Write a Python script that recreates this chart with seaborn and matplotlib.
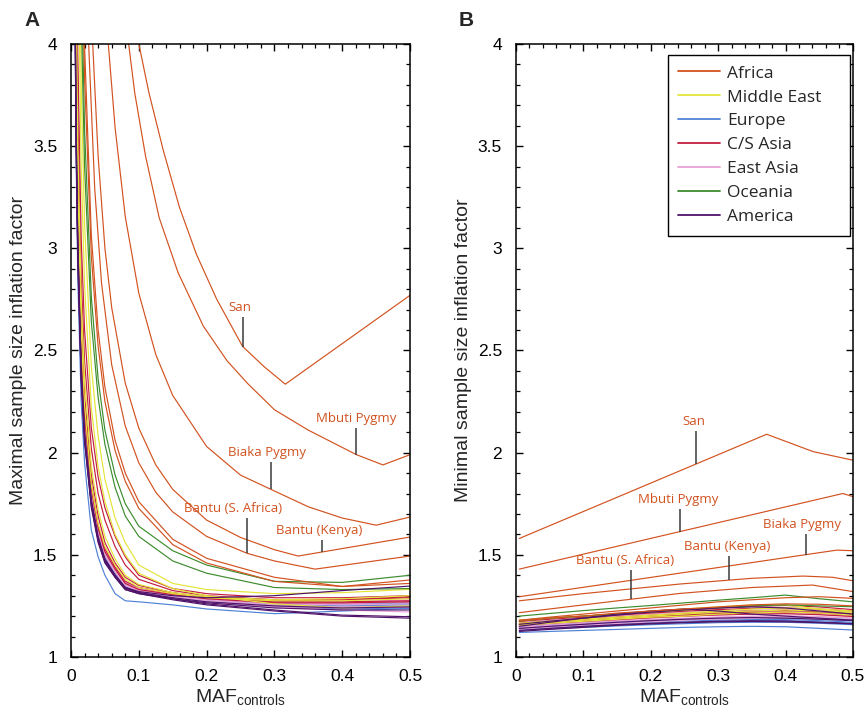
import numpy as np
import pandas as pd
import matplotlib
matplotlib.use("Agg")
import matplotlib.pyplot as plt
import seaborn as sns
from matplotlib.lines import Line2D
from matplotlib.ticker import MultipleLocator, FixedLocator, FixedFormatter

sns.set_theme(style="white")
plt.rcParams['font.family'] = ['Liberation Sans', 'DejaVu Sans']

REGIONS = ["Africa", "Middle East", "Europe", "C/S Asia", "East Asia", "Oceania", "America"]
REGION_COLORS = {
    "Africa": "#d2521f",
    "Middle East": "#e4e43a",
    "Europe": "#4f82d6",
    "C/S Asia": "#c41c3e",
    "East Asia": "#e6a3d6",
    "Oceania": "#3d8c2e",
    "America": "#50136a",
}

# ---------------- Panel A: maximal inflation factor ----------------
maf_a = [0.005, 0.0075, 0.01, 0.015, 0.02, 0.03, 0.04, 0.05, 0.065, 0.08,
         0.1, 0.15, 0.2, 0.3, 0.4, 0.5]

san_a_x = [0.09, 0.1, 0.115, 0.136, 0.16, 0.185, 0.215, 0.253, 0.285, 0.316, 0.5]
san_a_y = [4.2, 4.0, 3.76, 3.48, 3.2, 2.97, 2.75, 2.52, 2.42, 2.335, 2.77]
mbuti_a_x = [0.075, 0.085, 0.094, 0.11, 0.13, 0.158, 0.195, 0.23, 0.26, 0.3, 0.35, 0.421, 0.46, 0.5]
mbuti_a_y = [4.35, 4.0, 3.76, 3.45, 3.15, 2.88, 2.62, 2.45, 2.34, 2.21, 2.11, 1.99, 1.94, 1.99]
biaka_a_x = [0.045, 0.055, 0.065, 0.08, 0.1, 0.125, 0.15, 0.2, 0.25, 0.295, 0.35, 0.4, 0.45, 0.5]
biaka_a_y = [4.6, 4.0, 3.59, 3.155, 2.78, 2.48, 2.28, 2.03, 1.89, 1.82, 1.735, 1.68, 1.645, 1.685]
kenya_a_x = [0.025, 0.032, 0.04, 0.05, 0.06, 0.08, 0.1, 0.125, 0.15, 0.2, 0.25, 0.3, 0.335, 0.5]
kenya_a_y = [4.78, 4.0, 3.45, 3.0, 2.71, 2.34, 2.12, 1.94, 1.82, 1.67, 1.585, 1.525, 1.494, 1.587]
safrica_a_x = [0.02, 0.026, 0.035, 0.045, 0.06, 0.08, 0.1, 0.125, 0.15, 0.2, 0.26, 0.3, 0.36, 0.5]
safrica_a_y = [4.83, 4.0, 3.29, 2.83, 2.43, 2.13, 1.95, 1.806, 1.71, 1.59, 1.507, 1.47, 1.43, 1.494]
mandenka_a = [12.4, 8.6, 6.78, 4.92, 3.99, 3.06, 2.6, 2.32, 2.06, 1.9, 1.76, 1.576, 1.483, 1.39, 1.345, 1.377]
yoruba_a = [11.7, 8.2, 6.47, 4.71, 3.835, 2.96, 2.52, 2.25, 2.01, 1.86, 1.727, 1.55, 1.46, 1.37, 1.345, 1.36]

middle_east_a = [
    [8.5, 6.5, 5.2, 3.81, 3.12, 2.42, 2.08, 1.87, 1.68, 1.56, 1.45, 1.36, 1.33, 1.31, 1.315, 1.331],
    [7.4, 5.6, 4.55, 3.4, 2.82, 2.22, 1.93, 1.76, 1.6, 1.5, 1.41, 1.335, 1.3, 1.26, 1.24, 1.25],
    [5.6, 4.25, 3.52, 2.75, 2.36, 1.93, 1.72, 1.59, 1.48, 1.4, 1.355, 1.315, 1.295, 1.28, 1.285, 1.3],
    [5.2, 3.98, 3.3, 2.6, 2.23, 1.84, 1.65, 1.54, 1.45, 1.38, 1.34, 1.31, 1.29, 1.275, 1.275, 1.285],
]
europe_a = [
    [4.6, 3.45, 2.85, 2.25, 1.95, 1.62, 1.49, 1.4, 1.31, 1.275, 1.27, 1.255, 1.235, 1.212, 1.225, 1.238],
    [4.9, 3.75, 3.12, 2.48, 2.14, 1.79, 1.6, 1.49, 1.41, 1.345, 1.325, 1.3, 1.28, 1.255, 1.245, 1.25],
    [4.8, 3.7, 3.1, 2.45, 2.12, 1.78, 1.59, 1.48, 1.4, 1.34, 1.32, 1.295, 1.27, 1.245, 1.235, 1.24],
    [5.0, 3.82, 3.17, 2.52, 2.17, 1.81, 1.62, 1.51, 1.42, 1.355, 1.33, 1.305, 1.285, 1.265, 1.255, 1.26],
    [4.85, 3.72, 3.11, 2.46, 2.13, 1.78, 1.6, 1.49, 1.41, 1.345, 1.32, 1.3, 1.28, 1.26, 1.25, 1.255],
    [5.05, 3.85, 3.2, 2.54, 2.18, 1.82, 1.63, 1.52, 1.43, 1.36, 1.335, 1.31, 1.29, 1.27, 1.26, 1.265],
]
cs_asia_a = [
    [6.4, 4.8, 3.95, 3.05, 2.6, 2.12, 1.88, 1.73, 1.59, 1.49, 1.4, 1.335, 1.31, 1.29, 1.29, 1.3],
    [5.9, 4.45, 3.68, 2.86, 2.45, 2.02, 1.8, 1.67, 1.54, 1.45, 1.38, 1.325, 1.3, 1.28, 1.28, 1.29],
    [5.3, 4.05, 3.37, 2.65, 2.28, 1.89, 1.69, 1.56, 1.46, 1.39, 1.35, 1.315, 1.29, 1.27, 1.27, 1.275],
    [5.1, 3.9, 3.24, 2.57, 2.21, 1.84, 1.645, 1.53, 1.44, 1.37, 1.34, 1.31, 1.29, 1.275, 1.28, 1.295],
    [5.0, 3.84, 3.19, 2.53, 2.18, 1.82, 1.63, 1.515, 1.43, 1.36, 1.33, 1.305, 1.285, 1.265, 1.265, 1.27],
]
east_asia_a = [
    [4.9, 3.76, 3.14, 2.49, 2.15, 1.8, 1.61, 1.5, 1.42, 1.35, 1.33, 1.305, 1.285, 1.265, 1.26, 1.27],
    [5.0, 3.82, 3.18, 2.52, 2.17, 1.81, 1.62, 1.51, 1.425, 1.36, 1.335, 1.31, 1.29, 1.275, 1.27, 1.28],
    [4.95, 3.8, 3.16, 2.5, 2.16, 1.805, 1.615, 1.505, 1.42, 1.355, 1.325, 1.3, 1.275, 1.25, 1.24, 1.245],
    [5.1, 3.88, 3.22, 2.55, 2.19, 1.83, 1.64, 1.525, 1.435, 1.365, 1.34, 1.315, 1.295, 1.28, 1.28, 1.29],
    [4.85, 3.73, 3.12, 2.47, 2.14, 1.79, 1.605, 1.495, 1.415, 1.35, 1.32, 1.295, 1.27, 1.245, 1.23, 1.22],
    [5.0, 3.84, 3.19, 2.53, 2.18, 1.82, 1.625, 1.515, 1.43, 1.36, 1.33, 1.305, 1.285, 1.26, 1.255, 1.26],
    [4.9, 3.78, 3.15, 2.5, 2.155, 1.8, 1.61, 1.5, 1.42, 1.35, 1.325, 1.3, 1.28, 1.255, 1.245, 1.25],
    [5.05, 3.86, 3.21, 2.54, 2.18, 1.825, 1.63, 1.52, 1.43, 1.36, 1.335, 1.31, 1.29, 1.27, 1.265, 1.275],
]
oceania_a = [
    [11.0, 7.5, 6.0, 4.4, 3.58, 2.76, 2.36, 2.11, 1.89, 1.75, 1.64, 1.52, 1.45, 1.37, 1.365, 1.4],
    [10.0, 7.0, 5.6, 4.15, 3.4, 2.64, 2.27, 2.04, 1.83, 1.69, 1.59, 1.47, 1.41, 1.34, 1.33, 1.335],
]
america_a = [
    [4.5, 3.5, 2.94, 2.35, 2.05, 1.73, 1.56, 1.46, 1.39, 1.33, 1.31, 1.28, 1.255, 1.225, 1.2, 1.19],
    [4.6, 3.55, 2.98, 2.38, 2.07, 1.75, 1.575, 1.47, 1.395, 1.335, 1.315, 1.285, 1.26, 1.23, 1.205, 1.197],
    [4.7, 3.62, 3.04, 2.42, 2.1, 1.77, 1.59, 1.48, 1.4, 1.34, 1.32, 1.3, 1.29, 1.3, 1.325, 1.347],
    [4.55, 3.53, 2.97, 2.37, 2.06, 1.74, 1.57, 1.465, 1.39, 1.33, 1.31, 1.285, 1.265, 1.24, 1.23, 1.23],
    [4.65, 3.6, 3.02, 2.4, 2.08, 1.76, 1.58, 1.475, 1.4, 1.34, 1.315, 1.29, 1.27, 1.25, 1.24, 1.245],
]

# ---------------- Panel B: minimal inflation factor ----------------
maf_b = [0.005, 0.05, 0.1, 0.15, 0.2, 0.25, 0.3, 0.35, 0.4, 0.45, 0.5]

san_b_x = [0.005, 0.372, 0.441, 0.5]
san_b_y = [1.58, 2.09, 2.005, 1.963]
mbuti_b_x = [0.005, 0.485, 0.5]
mbuti_b_y = [1.43, 1.8, 1.785]
biaka_b_x = [0.005, 0.476, 0.5]
biaka_b_y = [1.295, 1.523, 1.52]
kenya_b_x = [0.005, 0.1, 0.243, 0.35, 0.426, 0.47, 0.5]
kenya_b_y = [1.275, 1.31, 1.357, 1.385, 1.396, 1.39, 1.373]
safrica_b_x = [0.005, 0.1, 0.243, 0.35, 0.44, 0.5]
safrica_b_y = [1.217, 1.255, 1.311, 1.34, 1.352, 1.32]
mandenka_b = [1.18, 1.195, 1.21, 1.225, 1.24, 1.255, 1.27, 1.28, 1.29, 1.295, 1.287]
yoruba_b = [1.175, 1.19, 1.2, 1.215, 1.225, 1.235, 1.245, 1.255, 1.26, 1.258, 1.25]

middle_east_b = [
    [1.18, 1.19, 1.2, 1.21, 1.225, 1.235, 1.245, 1.255, 1.255, 1.235, 1.213],
    [1.165, 1.175, 1.185, 1.195, 1.205, 1.215, 1.225, 1.235, 1.24, 1.235, 1.225],
    [1.16, 1.17, 1.18, 1.19, 1.2, 1.21, 1.22, 1.225, 1.23, 1.225, 1.22],
    [1.155, 1.165, 1.175, 1.185, 1.195, 1.2, 1.21, 1.215, 1.22, 1.215, 1.205],
]
europe_b = [
    [1.12, 1.125, 1.13, 1.135, 1.14, 1.145, 1.148, 1.15, 1.148, 1.14, 1.132],
    [1.135, 1.142, 1.15, 1.158, 1.165, 1.17, 1.175, 1.178, 1.178, 1.172, 1.165],
    [1.14, 1.148, 1.156, 1.163, 1.17, 1.176, 1.18, 1.183, 1.183, 1.178, 1.17],
    [1.13, 1.138, 1.145, 1.152, 1.158, 1.163, 1.168, 1.17, 1.17, 1.165, 1.158],
    [1.145, 1.153, 1.161, 1.169, 1.176, 1.182, 1.187, 1.19, 1.19, 1.185, 1.178],
    [1.15, 1.158, 1.166, 1.174, 1.181, 1.187, 1.192, 1.195, 1.195, 1.19, 1.183],
]
cs_asia_b = [
    [1.18, 1.19, 1.2, 1.21, 1.22, 1.23, 1.24, 1.248, 1.252, 1.245, 1.232],
    [1.175, 1.185, 1.195, 1.205, 1.215, 1.224, 1.232, 1.238, 1.24, 1.235, 1.225],
    [1.165, 1.175, 1.185, 1.195, 1.204, 1.212, 1.22, 1.225, 1.228, 1.222, 1.212],
    [1.16, 1.17, 1.18, 1.19, 1.198, 1.206, 1.213, 1.218, 1.22, 1.215, 1.205],
    [1.155, 1.165, 1.174, 1.183, 1.192, 1.2, 1.206, 1.21, 1.212, 1.207, 1.198],
]
east_asia_b = [
    [1.15, 1.16, 1.17, 1.18, 1.19, 1.198, 1.205, 1.21, 1.212, 1.208, 1.2],
    [1.16, 1.17, 1.18, 1.19, 1.2, 1.208, 1.215, 1.22, 1.222, 1.218, 1.21],
    [1.14, 1.15, 1.16, 1.17, 1.178, 1.186, 1.192, 1.197, 1.2, 1.197, 1.19],
    [1.165, 1.175, 1.185, 1.195, 1.205, 1.213, 1.22, 1.225, 1.228, 1.224, 1.216],
    [1.145, 1.155, 1.165, 1.175, 1.183, 1.19, 1.196, 1.2, 1.202, 1.198, 1.19],
    [1.155, 1.165, 1.175, 1.185, 1.194, 1.202, 1.21, 1.215, 1.218, 1.214, 1.205],
    [1.135, 1.145, 1.155, 1.164, 1.172, 1.18, 1.186, 1.19, 1.192, 1.188, 1.18],
    [1.17, 1.18, 1.19, 1.2, 1.21, 1.218, 1.225, 1.23, 1.232, 1.228, 1.22],
]
oceania_b = [
    [1.2, 1.213, 1.227, 1.24, 1.252, 1.265, 1.278, 1.29, 1.303, 1.285, 1.27],
    [1.175, 1.19, 1.2, 1.21, 1.22, 1.23, 1.24, 1.25, 1.255, 1.25, 1.246],
]
america_b = [
    [1.15, 1.17, 1.19, 1.21, 1.225, 1.235, 1.225, 1.21, 1.2, 1.19, 1.18],
    [1.125, 1.135, 1.145, 1.155, 1.162, 1.168, 1.172, 1.174, 1.172, 1.168, 1.162],
    [1.13, 1.14, 1.15, 1.158, 1.165, 1.17, 1.175, 1.177, 1.176, 1.17, 1.163],
    [1.16, 1.175, 1.19, 1.205, 1.22, 1.232, 1.24, 1.245, 1.24, 1.225, 1.21],
    [1.14, 1.15, 1.16, 1.17, 1.178, 1.185, 1.19, 1.193, 1.19, 1.185, 1.178],
]

# labelled populations: (name, marker x, marker length, text x)
labels_a = [
    ("San", 0.2537, 0.145, 0.249),
    ("Mbuti Pygmy", 0.421, 0.132, 0.421),
    ("Biaka Pygmy", 0.295, 0.132, 0.289),
    ("Bantu (S. Africa)", 0.26, 0.172, 0.239),
    ("Bantu (Kenya)", 0.37, 0.06, 0.366),
]
labels_b = [
    ("San", 0.267, 0.163, 0.264),
    ("Mbuti Pygmy", 0.243, 0.109, 0.241),
    ("Biaka Pygmy", 0.431, 0.10, 0.425),
    ("Bantu (Kenya)", 0.316, 0.118, 0.313),
    ("Bantu (S. Africa)", 0.170, 0.145, 0.162),
]


def build_frame(named, grid, grouped):
    rows = []
    for pop, (xs, ys) in named.items():
        for x, y in zip(xs, ys):
            rows.append((x, y, "Africa", pop))
    for region, curves in grouped:
        for i, ys in enumerate(curves):
            for x, y in zip(grid, ys):
                rows.append((x, y, region, f"{region} {i}"))
    return pd.DataFrame(rows, columns=["maf", "factor", "region", "pop"])


named_a = {
    "San": (san_a_x, san_a_y),
    "Mbuti Pygmy": (mbuti_a_x, mbuti_a_y),
    "Biaka Pygmy": (biaka_a_x, biaka_a_y),
    "Bantu (Kenya)": (kenya_a_x, kenya_a_y),
    "Bantu (S. Africa)": (safrica_a_x, safrica_a_y),
    "Mandenka": (maf_a, mandenka_a),
    "Yoruba": (maf_a, yoruba_a),
}
named_b = {
    "San": (san_b_x, san_b_y),
    "Mbuti Pygmy": (mbuti_b_x, mbuti_b_y),
    "Biaka Pygmy": (biaka_b_x, biaka_b_y),
    "Bantu (Kenya)": (kenya_b_x, kenya_b_y),
    "Bantu (S. Africa)": (safrica_b_x, safrica_b_y),
    "Mandenka": (maf_b, mandenka_b),
    "Yoruba": (maf_b, yoruba_b),
}
df_a = build_frame(named_a, maf_a, [
    ("Europe", europe_a), ("East Asia", east_asia_a), ("C/S Asia", cs_asia_a),
    ("Middle East", middle_east_a), ("Oceania", oceania_a), ("America", america_a)])
df_b = build_frame(named_b, maf_b, [
    ("Europe", europe_b), ("East Asia", east_asia_b), ("C/S Asia", cs_asia_b),
    ("Middle East", middle_east_b), ("Oceania", oceania_b), ("America", america_b)])

draw_order = ["Europe", "East Asia", "C/S Asia", "Middle East", "Oceania", "America", "Africa"]

fig = plt.figure(figsize=(8.66, 7.23), dpi=100)
ax_a = fig.add_axes([0.082, 0.0913, 0.3915, 0.8479])
ax_b = fig.add_axes([0.5958, 0.0913, 0.3891, 0.8479])

tick_font = 12.5
label_font = 14


def style_axes(ax, ylabel):
    ax.set_xlim(0, 0.5)
    ax.set_ylim(1, 4)
    ax.xaxis.set_major_locator(FixedLocator([0, 0.1, 0.2, 0.3, 0.4, 0.5]))
    ax.xaxis.set_major_formatter(FixedFormatter(["0", "0.1", "0.2", "0.3", "0.4", "0.5"]))
    ax.xaxis.set_minor_locator(MultipleLocator(0.02))
    ax.yaxis.set_major_locator(FixedLocator([1, 1.5, 2, 2.5, 3, 3.5, 4]))
    ax.yaxis.set_major_formatter(FixedFormatter(["1", "1.5", "2", "2.5", "3", "3.5", "4"]))
    ax.yaxis.set_minor_locator(MultipleLocator(0.1))
    ax.tick_params(which="both", direction="in", top=True, right=True,
                   bottom=True, left=True, colors="black", labelsize=tick_font)
    ax.tick_params(which="major", length=5, width=1.0)
    ax.tick_params(axis="y", which="major", pad=10)
    ax.tick_params(axis="x", which="major", pad=9)
    ax.tick_params(which="minor", length=2.8, width=0.9)
    for s in ax.spines.values():
        s.set_visible(True)
        s.set_color("black")
        s.set_linewidth(1.1)
    ax.set_xlabel("MAF$_{\\mathregular{controls}}$", fontsize=label_font)
    ax.set_ylabel(ylabel, fontsize=label_font)
    ax.xaxis.set_label_coords(0.5, -0.05)
    ax.yaxis.set_label_coords(-0.13, 0.5)
    ax.grid(False)
    ax.set_facecolor("white")


def annotate(ax, named, labels):
    for name, mx, length, tx in labels:
        xs, ys = named[name]
        y0 = float(np.interp(mx, xs, ys))
        ax.plot([mx, mx], [y0, y0 + length], color="#3a3a3a", lw=1.1,
                solid_capstyle="butt", zorder=5)
        ax.text(tx, y0 + length + 0.03, name, ha="center", va="baseline",
                color=REGION_COLORS["Africa"], fontsize=9.5,
                family=["Open Sans", "DejaVu Sans"], zorder=6)


for ax, df in ((ax_a, df_a), (ax_b, df_b)):
    sns.lineplot(data=df, x="maf", y="factor", hue="region", units="pop",
                 estimator=None, sort=False, hue_order=draw_order,
                 palette=REGION_COLORS, legend=False, lw=0.85, ax=ax)

style_axes(ax_a, "Maximal sample size inflation factor")
style_axes(ax_b, "Minimal sample size inflation factor")
annotate(ax_a, named_a, labels_a)
annotate(ax_b, named_b, labels_b)

handles = [Line2D([0], [0], color=REGION_COLORS[r], lw=1.3) for r in REGIONS]
leg = ax_b.legend(handles, REGIONS, loc="upper left",
                  bbox_to_anchor=(0.451, 0.693, 0.540, 0.289), mode="expand",
                  borderaxespad=0, frameon=True, fancybox=False, framealpha=1,
                  edgecolor="black", handlelength=2.4, handletextpad=0.4,
                  labelspacing=0.45, borderpad=0.6,
                  prop={"family": ["Open Sans", "DejaVu Sans"], "size": 12.5})
leg.get_frame().set_linewidth(1.0)

fig.text(0.037, 0.972, "A", fontsize=15, fontweight="bold", ha="center", va="center")
fig.text(0.538, 0.972, "B", fontsize=15, fontweight="bold", ha="center", va="center")

fig.savefig("out.png", dpi=100, facecolor="white")
